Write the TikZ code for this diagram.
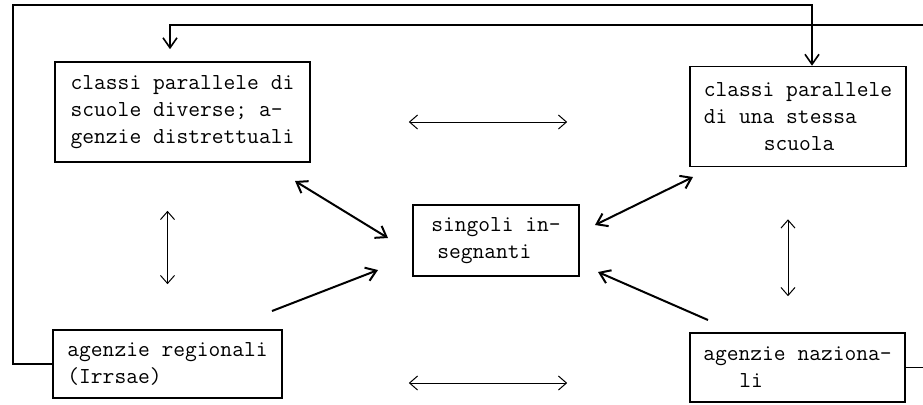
\documentclass[tikz,border=0pt]{standalone}
\usepackage{fontspec}
\usetikzlibrary{arrows.meta,calc,positioning}

\tikzset{
  box/.style={draw, line width=0.8pt, align=left, inner sep=0pt,
    font=\ttfamily\fontsize{11.43}{13.5}\selectfont},
  dbl/.style={{Straight Barb[length=4pt,width=7pt]}-{Straight Barb[length=4pt,width=7pt]}, line width=0.5pt},
  diag/.style={-{Straight Barb[length=5pt,width=7pt]}, line width=1pt},
  diagdbl/.style={{Straight Barb[length=5pt,width=7pt]}-{Straight Barb[length=5pt,width=7pt]}, line width=1pt},
  loopline/.style={-{Straight Barb[length=5pt,width=7pt]}, line width=0.8pt},
}

\begin{document}
\begin{tikzpicture}[x=0.5pt, y=-0.5pt]
  \useasboundingbox (0,0) rectangle (923,404);
  % boxes
  \node[box, minimum width=127.5pt, minimum height=50pt] (diverse) at (182.5,112)
    {classi parallele di\\scuole diverse; a-\\genzie distrettuali};
  \node[box, minimum width=108pt, minimum height=50pt] (stessa) at (798,116.5)
    {classi parallele\\di una stessa\\\hspace*{30pt}scuola};
  \node[box, minimum width=83pt, minimum height=35.5pt] (singoli) at (496,240.5)
    {singoli in-\\\hspace*{3pt}segnanti};
  \node[box, minimum width=114.5pt, minimum height=34pt] (regionali) at (167.5,364)
    {agenzie regionali\\(Irrsae)};
  \node[box, minimum width=107.5pt, minimum height=34.5pt] (nazionali) at (797.5,367.5)
    {agenzie naziona-\\\hspace*{18pt}li};

  % horizontal and vertical exchanges
  \draw[dbl, shorten <=49pt, shorten >=61pt] ([yshift=-5pt]diverse.east) -- ([yshift=-5pt]diverse.east -| stessa.west);
  \draw[dbl, shorten <=63pt, shorten >=61pt] ([yshift=-9.5pt]regionali.east) -- ([yshift=-9.5pt]regionali.east -| nazionali.west);
  \draw[dbl, shorten <=24pt, shorten >=22.5pt] (diverse.south -| regionali.north) -- (regionali.north);
  \draw[dbl, shorten <=26pt, shorten >=18pt] ([xshift=-5pt]stessa.south) -- ([xshift=-5pt]stessa.south |- nazionali.north);

  % diagonals towards the teachers
  \coordinate (dvA) at (295,181);
  \coordinate (dvB) at (388,238);
  \coordinate (rgA) at (272,311);
  \coordinate (rgB) at (378,270);
  \coordinate (stA) at (693,177);
  \coordinate (stB) at (595,225);
  \coordinate (nzA) at (708,320);
  \coordinate (nzB) at (598,272);
  \draw[diagdbl] (dvA) -- (dvB);
  \draw[diag] (rgA) -- (rgB);
  \draw[diagdbl] (stA) -- (stB);
  \draw[diag] (nzA) -- (nzB);

  % feedback lines
  \coordinate (cornerL) at (13,5);
  \coordinate (cornerR) at (935,25);
  \draw[loopline] (regionali.west) -| (cornerL) -| ([xshift=7pt]stessa.north);
  \draw[loopline, shorten >=6pt] (nazionali.east) -| (cornerR) -| ([xshift=-6.25pt]diverse.north);
\end{tikzpicture}
\end{document}
